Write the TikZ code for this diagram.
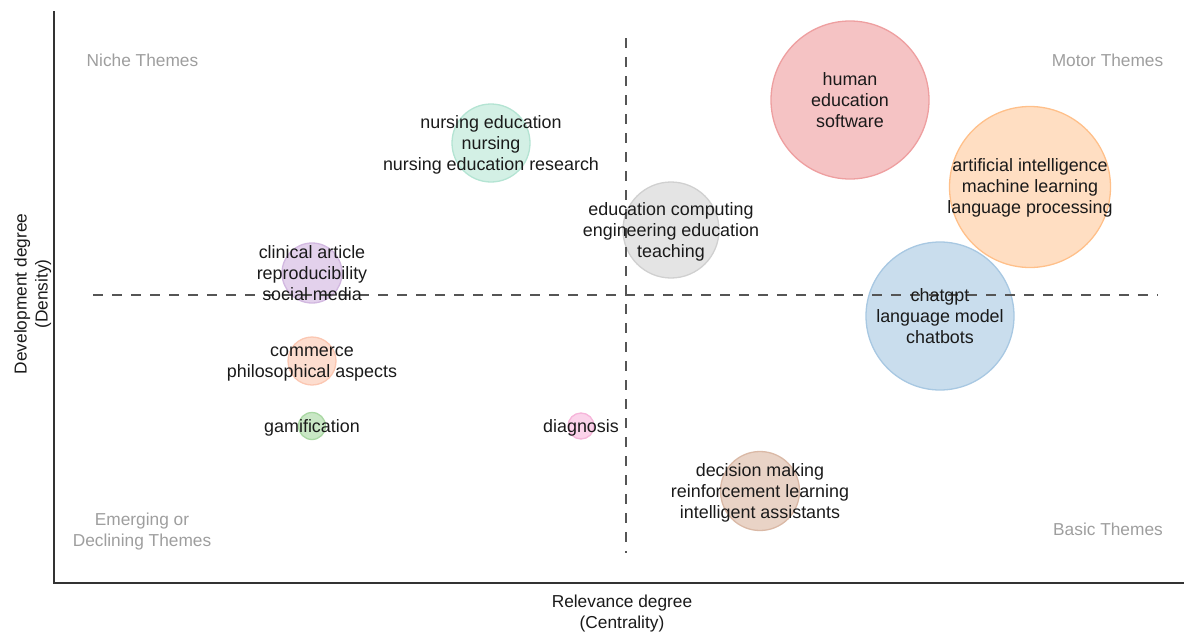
\documentclass[tikz,border=0pt]{standalone}
\usepackage{fontspec}
\setmainfont{Liberation Sans}
\definecolor{txt}{HTML}{1A1A1A}
\definecolor{qgray}{HTML}{9E9E9E}
\definecolor{axisc}{HTML}{333333}
\definecolor{dashc}{HTML}{555555}
\definecolor{redF}{HTML}{F5C3C4}\definecolor{redE}{HTML}{EE9FA0}
\definecolor{orgF}{HTML}{FFDEC2}\definecolor{orgE}{HTML}{FFC08A}
\definecolor{bluF}{HTML}{C9DDED}\definecolor{bluE}{HTML}{A8C8E2}
\definecolor{gryF}{HTML}{E4E4E4}\definecolor{gryE}{HTML}{D0D0D0}
\definecolor{tealF}{HTML}{D3F0E5}\definecolor{tealE}{HTML}{B4E4D3}
\definecolor{purF}{HTML}{E3D1EC}\definecolor{purE}{HTML}{D2B8E0}
\definecolor{salF}{HTML}{FDDDCF}\definecolor{salE}{HTML}{FBC7B2}
\definecolor{grnF}{HTML}{C9E7C5}\definecolor{grnE}{HTML}{A9D8A3}
\definecolor{pnkF}{HTML}{FBD3EA}\definecolor{pnkE}{HTML}{F6B5DA}
\definecolor{brnF}{HTML}{E9D3C6}\definecolor{brnE}{HTML}{DAB9A6}
\begin{document}
\begin{tikzpicture}[x=1pt,y=-1pt,
  bub/.style={circle, line width=1.3pt, inner sep=0pt, minimum size=#1},
  lbl/.style={font=\fontsize{17.9}{21}\selectfont, align=center, text=txt, inner sep=0pt, yshift=-1.8pt},
  quad/.style={font=\fontsize{17.3}{21}\selectfont, align=center, text=qgray, inner sep=0pt, yshift=-1.8pt},
  axl/.style={font=\fontsize{17.3}{21}\selectfont, align=center, text=txt, inner sep=0pt},
  axisline/.style={draw=axisc, line width=1.4pt},
  dashline/.style={draw=dashc, line width=1.8pt, dash pattern=on 10pt off 9pt}
]
\useasboundingbox (0,0) rectangle (1184,632);

% axes
\coordinate (atop) at (54,11);
\coordinate (aorig) at (54,583);
\coordinate (aright) at (1184,583);
\draw[axisline] (atop) -- (aorig) -- (aright);

% bubbles
\node[bub=158pt, fill=redF, draw=redE] (b-human) at (850,100) {};
\node[bub=161pt, fill=orgF, draw=orgE] (b-ai) at (1030,187) {};
\node[bub=148pt, fill=bluF, draw=bluE] (b-chat) at (940,316) {};
\node[bub=96pt, fill=gryF, draw=gryE] (b-edu) at (671,230) {};
\node[bub=78pt, fill=tealF, draw=tealE] (b-nurs) at (491,143) {};
\node[bub=60pt, fill=purF, draw=purE] (b-clin) at (312,273) {};
\node[bub=48pt, fill=salF, draw=salE] (b-comm) at (312,361) {};
\node[bub=27pt, fill=grnF, draw=grnE] (b-gam) at (312,426) {};
\node[bub=26pt, fill=pnkF, draw=pnkE] (b-diag) at (581,426) {};
\node[bub=79pt, fill=brnF, draw=brnE] (b-dec) at (760,491) {};

% dashed quadrant lines
\coordinate (hl) at (93,295);
\coordinate (hr) at (1158,295);
\coordinate (vt) at (626,38);
\coordinate (vb) at (626,553);
\draw[dashline] (hl) -- (hr);
\draw[dashline] (vt) -- (vb);

% bubble labels
\node[lbl] (t-human) at (850,100) {\strut human\\\strut education\\\strut software};
\node[lbl] (t-ai) at (1030,186) {\strut artificial intelligence\\\strut machine learning\\\strut language processing};
\node[lbl] (t-chat) at (940,316) {\strut chatgpt\\\strut language model\\\strut chatbots};
\node[lbl] (t-edu) at (671,230) {\strut education computing\\\strut engineering education\\\strut teaching};
\node[lbl] (t-nurs) at (491,143) {\strut nursing education\\\strut nursing\\\strut nursing education research};
\node[lbl] (t-clin) at (312,273) {\strut clinical article\\\strut reproducibility\\\strut social media};
\node[lbl] (t-comm) at (312,361) {\strut commerce\\\strut philosophical aspects};
\node[lbl] (t-gam) at (312,426) {\strut gamification};
\node[lbl] (t-diag) at (581,426) {\strut diagnosis};
\node[lbl] (t-dec) at (760,491) {\strut decision making\\\strut reinforcement learning\\\strut intelligent assistants};

% quadrant labels
\node[quad] (q-niche) at (142.5,60) {\strut Niche Themes};
\node[quad] (q-motor) at (1107.5,60) {\strut Motor Themes};
\node[quad] (q-basic) at (1108,529) {\strut Basic Themes};
\node[quad] (q-emerg) at (142,530) {\strut Emerging or\\\strut Declining Themes};

% axis labels
\node[axl] (xlab) at (622,614) {\strut Relevance degree\\\strut (Centrality)};
\node[axl, rotate=90] (ylab) at (33,294) {\strut Development degree\\\strut (Density)};
\end{tikzpicture}
\end{document}
